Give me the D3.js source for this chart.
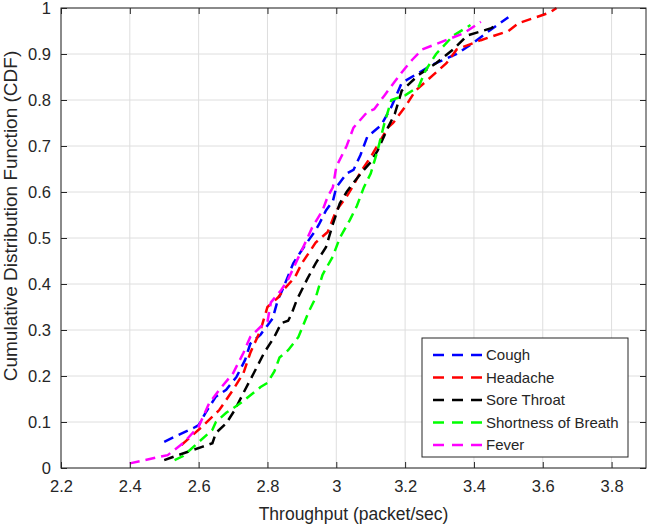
<!DOCTYPE html>
<html>
<head>
<meta charset="utf-8">
<script src="https://cdn.jsdelivr.net/npm/d3@7"></script>
<style>
    body { margin: 0; background: #fff; }
    #chart-area { width: 648px; height: 529px; }
    text { font-family: "Liberation Sans", Arial, sans-serif; fill: #262626; }
</style>
</head>
<body>
<div id="chart-area"></div>
<script>
// series names as in the legend
const seriesNames = ["Cough", "Headache", "Sore Throat", "Shortness of Breath", "Fever"];

// [throughput, cdf]
const cough = [[2.50,0.057],[2.53,0.068],[2.585,0.087],[2.60,0.093],[2.62,0.12],[2.65,0.155],[2.68,0.17],
    [2.71,0.198],[2.735,0.235],[2.75,0.27],[2.78,0.29],[2.80,0.31],[2.815,0.325],[2.83,0.365],[2.845,0.39],
    [2.875,0.445],[2.90,0.474],[2.94,0.517],[2.95,0.53],[2.97,0.56],[2.99,0.58],[3.00,0.61],[3.03,0.64],
    [3.05,0.648],[3.07,0.68],[3.09,0.72],[3.13,0.745],[3.16,0.785],[3.19,0.837],[3.28,0.877],[3.35,0.90],
    [3.39,0.92],[3.44,0.948],[3.50,0.98]];

const headache = [[2.55,0.05],[2.58,0.07],[2.61,0.09],[2.66,0.126],[2.70,0.17],[2.73,0.206],[2.75,0.25],
    [2.78,0.30],[2.80,0.35],[2.83,0.37],[2.85,0.39],[2.88,0.415],[2.90,0.445],[2.94,0.49],[2.975,0.513],
    [3.00,0.56],[3.03,0.59],[3.05,0.615],[3.07,0.643],[3.10,0.676],[3.15,0.74],[3.165,0.75],[3.20,0.785],
    [3.23,0.82],[3.26,0.84],[3.32,0.88],[3.35,0.91],[3.42,0.93],[3.50,0.95],[3.53,0.967],[3.62,0.99],[3.64,1.0]];

const soreThroat = [[2.50,0.017],[2.525,0.024],[2.61,0.046],[2.64,0.054],[2.65,0.076],[2.68,0.097],
    [2.705,0.126],[2.73,0.163],[2.76,0.206],[2.79,0.25],[2.82,0.285],[2.84,0.315],[2.86,0.32],[2.87,0.335],
    [2.885,0.365],[2.915,0.41],[2.94,0.445],[2.97,0.48],[2.99,0.53],[3.01,0.575],[3.03,0.60],[3.05,0.62],
    [3.08,0.648],[3.10,0.665],[3.12,0.69],[3.15,0.74],[3.17,0.77],[3.19,0.82],[3.24,0.855],[3.29,0.88],
    [3.34,0.91],[3.38,0.94],[3.45,0.956],[3.47,0.967]];

const shortnessOfBreath = [[2.53,0.017],[2.555,0.026],[2.64,0.083],[2.65,0.10],[2.68,0.12],[2.70,0.13],
    [2.725,0.143],[2.78,0.176],[2.80,0.185],[2.82,0.21],[2.835,0.24],[2.86,0.256],[2.89,0.285],[2.92,0.34],
    [2.94,0.37],[2.96,0.42],[2.99,0.46],[3.01,0.50],[3.04,0.54],[3.06,0.57],[3.08,0.61],[3.10,0.64],
    [3.12,0.69],[3.14,0.75],[3.16,0.80],[3.20,0.81],[3.24,0.83],[3.26,0.865],[3.29,0.90],[3.34,0.94],[3.39,0.963]];

const fever = [[2.40,0.01],[2.51,0.028],[2.555,0.054],[2.60,0.09],[2.63,0.14],[2.66,0.17],[2.70,0.206],
    [2.73,0.25],[2.75,0.285],[2.78,0.307],[2.80,0.318],[2.81,0.36],[2.84,0.387],[2.86,0.41],[2.91,0.49],
    [2.93,0.523],[2.96,0.56],[2.975,0.59],[2.99,0.61],[3.00,0.655],[3.03,0.70],[3.05,0.74],[3.09,0.774],
    [3.11,0.78],[3.14,0.81],[3.17,0.84],[3.19,0.86],[3.22,0.887],[3.25,0.91],[3.37,0.945],[3.42,0.97]];

const xTicks = [2.2, 2.4, 2.6, 2.8, 3, 3.2, 3.4, 3.6, 3.8];
const yTicks = [0, 0.1, 0.2, 0.3, 0.4, 0.5, 0.6, 0.7, 0.8, 0.9, 1];

const seriesColors = ["#0000ff", "#ff0000", "#000000", "#00ff00", "#ff00ff"];

class CdfChart {
    constructor(parentElement, series) {
        this.parentElement = parentElement;
        this.series = series;
        this.initVis();
    }

    initVis() {
        let vis = this;

        vis.margin = { top: 8, right: 2, bottom: 61, left: 61 };
        vis.width = 648 - vis.margin.left - vis.margin.right;
        vis.height = 529 - vis.margin.top - vis.margin.bottom;

        vis.svg = d3.select("#" + vis.parentElement).append("svg")
            .attr("width", 648)
            .attr("height", 529)
            .append("g")
            .attr("transform", "translate(" + vis.margin.left + "," + vis.margin.top + ")");

        vis.x = d3.scaleLinear().domain([2.2, 3.9]).range([0, vis.width]);
        vis.y = d3.scaleLinear().domain([0, 1]).range([vis.height, 0]);

        // grid
        vis.svg.append("g").selectAll("line")
            .data(xTicks).enter().append("line")
            .attr("x1", d => vis.x(d)).attr("x2", d => vis.x(d))
            .attr("y1", 0).attr("y2", vis.height)
            .attr("stroke", "#dedede");
        vis.svg.append("g").selectAll("line")
            .data(yTicks).enter().append("line")
            .attr("y1", d => vis.y(d)).attr("y2", d => vis.y(d))
            .attr("x1", 0).attr("x2", vis.width)
            .attr("stroke", "#dedede");

        this.wrangleData();
    }

    wrangleData() {
        let vis = this;
        vis.displayData = vis.series.map((s, i) => ({
            name: seriesNames[i],
            color: seriesColors[i],
            values: s
        }));
        this.updateVis();
    }

    updateVis() {
        let vis = this;

        let line = d3.line()
            .x(d => vis.x(d[0]))
            .y(d => vis.y(d[1]));

        vis.svg.selectAll(".cdf")
            .data(vis.displayData)
            .enter().append("path")
            .attr("class", "cdf")
            .attr("fill", "none")
            .attr("stroke", d => d.color)
            .attr("stroke-width", 2.5)
            .attr("stroke-dasharray", "10,6")
            .attr("d", d => line(d.values));

        // axes, ticks pointing inwards like matlab
        let axisStyle = g => {
            g.select(".domain").remove();
            g.selectAll(".tick line").attr("stroke", "#262626");
            g.selectAll(".tick text").style("font-size", "16.5px").attr("fill", "#262626");
        };

        vis.svg.append("g")
            .attr("transform", "translate(0," + vis.height + ")")
            .call(d3.axisBottom(vis.x).tickValues(xTicks).tickFormat(d3.format("")).tickSizeInner(-6).tickPadding(12))
            .call(axisStyle);
        vis.svg.append("g")
            .call(d3.axisTop(vis.x).tickValues(xTicks).tickFormat("").tickSizeInner(-6))
            .call(axisStyle);
        vis.svg.append("g")
            .call(d3.axisLeft(vis.y).tickValues(yTicks).tickFormat(d3.format("")).tickSizeInner(-6).tickPadding(10))
            .call(axisStyle);
        vis.svg.append("g")
            .attr("transform", "translate(" + vis.width + ",0)")
            .call(d3.axisRight(vis.y).tickValues(yTicks).tickFormat("").tickSizeInner(-6))
            .call(axisStyle);

        vis.svg.append("rect")
            .attr("width", vis.width)
            .attr("height", vis.height)
            .attr("fill", "none")
            .attr("stroke", "#262626");

        vis.svg.append("text")
            .attr("x", vis.width / 2)
            .attr("y", vis.height + 52)
            .attr("text-anchor", "middle")
            .style("font-size", "17.5px")
            .text("Throughput (packet/sec)");

        vis.svg.append("text")
            .attr("transform", "rotate(-90)")
            .attr("x", -208)
            .attr("y", -44)
            .attr("text-anchor", "middle")
            .style("font-size", "19px")
            .text("Cumulative Distribution Function (CDF)");

        // legend
        let legend = vis.svg.append("g")
            .attr("transform", "translate(361,330)");
        legend.append("rect")
            .attr("width", 206)
            .attr("height", 119)
            .attr("fill", "#fff")
            .attr("stroke", "#262626");
        let item = legend.selectAll(".item")
            .data(vis.displayData)
            .enter().append("g")
            .attr("class", "item")
            .attr("transform", (d, i) => "translate(0," + (17 + i * 22.5) + ")");
        item.append("line")
            .attr("x1", 11).attr("x2", 60)
            .attr("stroke", d => d.color)
            .attr("stroke-width", 2.5)
            .attr("stroke-dasharray", "11,8");
        item.append("text")
            .attr("x", 64)
            .attr("dy", "0.35em")
            .style("font-size", "15px")
            .text(d => d.name);
    }
}

new CdfChart("chart-area", [cough, headache, soreThroat, shortnessOfBreath, fever]);
</script>
</body>
</html>
